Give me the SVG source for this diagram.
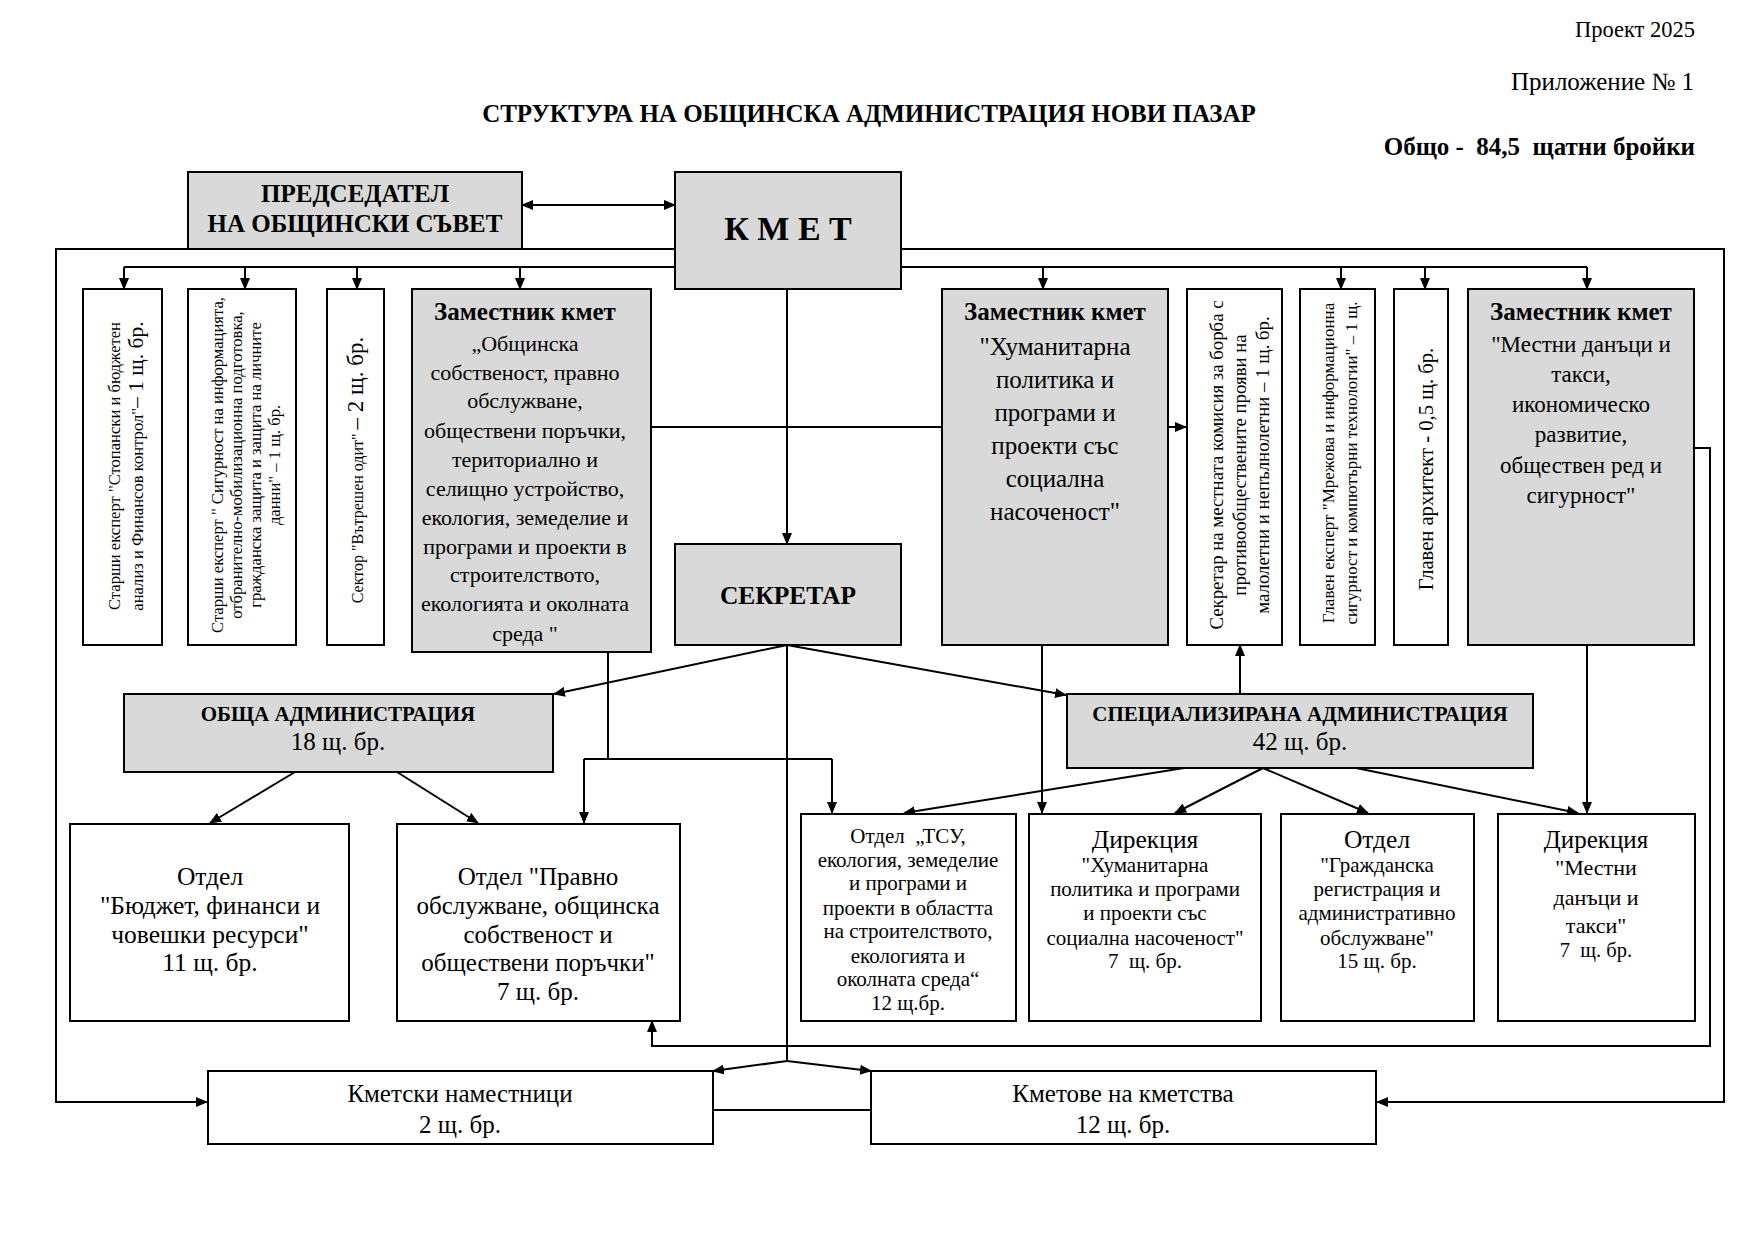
<svg xmlns="http://www.w3.org/2000/svg" width="1755" height="1241" viewBox="0 0 1755 1241">
<style>
text{font-family:"Liberation Serif","Times New Roman",serif;fill:#000}
.c{text-anchor:middle}
.e{text-anchor:end}
.b{font-weight:bold}
.box{fill:#fff;stroke:#000;stroke-width:2}
.g{fill:#d9d9d9}
.ln{fill:none;stroke:#000;stroke-width:2}
.ar{marker-end:url(#ah)}
</style>
<defs>
<marker id="ah" viewBox="0 0 12 10" refX="11" refY="5" markerWidth="12" markerHeight="10" markerUnits="userSpaceOnUse" orient="auto-start-reverse"><path d="M0,0 L12,5 L0,10 z" fill="#000"/></marker>
</defs>
<rect width="1755" height="1241" fill="#fff"/>
<g id="header">
<text x="1695" y="37" font-size="22.5" class="e">Проект 2025</text>
<text x="1694" y="90" font-size="25" class="e">Приложение № 1</text>
<text x="869" y="122" font-size="25" class="c b">СТРУКТУРА НА ОБЩИНСКА АДМИНИСТРАЦИЯ НОВИ ПАЗАР</text>
<text x="1695" y="155" font-size="25" class="e b" xml:space="preserve">Общо -  84,5  щатни бройки</text>
</g>
<g id="connectors">
<path class="ln" d="M522,205 H675" marker-start="url(#ah)" marker-end="url(#ah)"/>
<path class="ln ar" d="M675,249 H56 V1102 H207"/>
<path class="ln ar" d="M901,249 H1724 V1102 H1377"/>
<path class="ln" d="M124,267 H675 M901,267 H1587"/>
<path class="ln ar" d="M124,267 V289"/>
<path class="ln ar" d="M245,267 V289"/>
<path class="ln ar" d="M357,267 V289"/>
<path class="ln ar" d="M520,267 V289"/>
<path class="ln ar" d="M1043,267 V289"/>
<path class="ln ar" d="M1341,267 V289"/>
<path class="ln ar" d="M1425,267 V289"/>
<path class="ln ar" d="M1587,267 V289"/>
<path class="ln ar" d="M787,289 V544"/>
<path class="ln ar" d="M651,427 H1186"/>
<path class="ln ar" d="M1694,448 H1710 V1046 H652 V1021"/>
<path class="ln ar" d="M787,645 L554,694"/>
<path class="ln ar" d="M787,645 L1066,695"/>
<path class="ln" d="M787,645 V1061"/>
<path class="ln ar" d="M787,1061 L713,1071"/>
<path class="ln ar" d="M787,1061 L871,1071"/>
<path class="ln" d="M608,653 V759 M584,759 H832"/>
<path class="ln ar" d="M584,759 V823"/>
<path class="ln ar" d="M832,759 V813"/>
<path class="ln ar" d="M295,772 L210,823"/>
<path class="ln ar" d="M397,772 L478,823"/>
<path class="ln ar" d="M1240,694 V645"/>
<path class="ln ar" d="M1042,645 V813"/>
<path class="ln ar" d="M1587,645 V813"/>
<path class="ln ar" d="M1184,768 L904,813"/>
<path class="ln ar" d="M1263,768 L1175,813"/>
<path class="ln ar" d="M1263,768 L1368,813"/>
<path class="ln ar" d="M1356,768 L1578,813"/>
<path class="ln" d="M713,1110 H871"/>
</g>
<g id="predsedatel">
<rect class="box g" x="188" y="172" width="334" height="77"/>
<text x="355" y="202" font-size="25" class="c b">ПРЕДСЕДАТЕЛ</text>
<text x="355" y="232" font-size="25" class="c b">НА ОБЩИНСКИ СЪВЕТ</text>
</g>
<g id="kmet">
<rect class="box g" x="675" y="172" width="226" height="117"/>
<text x="788" y="240" font-size="34" class="c b">К М Е Т</text>
</g>
<g id="st-expert-stopanski">
<rect class="box" x="83" y="289" width="79" height="356"/>
<g transform="translate(0,466) rotate(-90)">
<text x="0" y="120" font-size="16.6" class="c">Старши експерт "Стопански и бюджетен</text>
<text x="0" y="143" font-size="16.6" class="c">анализ и Финансов контрол"<tspan font-size="21.5">– 1 щ. бр.</tspan></text>
</g>
</g>
<g id="st-expert-sigurnost">
<rect class="box" x="188" y="289" width="108" height="356"/>
<g transform="translate(0,465) rotate(-90)" font-size="16.6">
<text x="0" y="223" class="c">Старши експерт " Сигурност на информацията,</text>
<text x="0" y="242" class="c">отбранително-мобилизационна подготовка,</text>
<text x="0" y="261" class="c">гражданска защита и защита на личните</text>
<text x="0" y="280" class="c">данни" – 1 щ. бр.</text>
</g>
</g>
<g id="sektor-odit">
<rect class="box" x="327" y="289" width="57" height="356"/>
<text transform="translate(363,470) rotate(-90)" font-size="16" class="c">Сектор "Вътрешен одит" <tspan font-size="23">– 2 щ. бр.</tspan></text>
</g>
<g id="zam-kmet-1">
<rect class="box g" x="412" y="289" width="239" height="363"/>
<text x="525" y="320" font-size="25" class="c b">Заместник кмет</text>
<g font-size="22">
<text x="525" y="351" class="c">„Общинска</text>
<text x="525" y="380" class="c">собственост, правно</text>
<text x="525" y="408" class="c">обслужване,</text>
<text x="525" y="438" class="c">обществени поръчки,</text>
<text x="525" y="467" class="c">териториално и</text>
<text x="525" y="496" class="c">селищно устройство,</text>
<text x="525" y="525" class="c">екология, земеделие и</text>
<text x="525" y="554" class="c">програми и проекти в</text>
<text x="525" y="582" class="c">строителството,</text>
<text x="525" y="611" class="c">екологията и околната</text>
<text x="525" y="641" class="c">среда "</text>
</g>
</g>
<g id="sekretar">
<rect class="box g" x="675" y="544" width="226" height="101"/>
<text x="788" y="604" font-size="25.5" class="c b">СЕКРЕТАР</text>
</g>
<g id="zam-kmet-2">
<rect class="box g" x="942" y="289" width="226" height="356"/>
<text x="1055" y="320" font-size="25" class="c b">Заместник кмет</text>
<g font-size="25">
<text x="1055" y="355" class="c">"Хуманитарна</text>
<text x="1055" y="388" class="c">политика и</text>
<text x="1055" y="421" class="c">програми и</text>
<text x="1055" y="454" class="c">проекти със</text>
<text x="1055" y="487" class="c">социална</text>
<text x="1055" y="520" class="c">насоченост"</text>
</g>
</g>
<g id="sekretar-komisia">
<rect class="box" x="1187" y="289" width="95" height="356"/>
<g transform="translate(0,465) rotate(-90)" font-size="18.8">
<text x="0" y="1223" class="c">Секретар на местната комисия за борба с</text>
<text x="0" y="1246" class="c">противообществените прояви на</text>
<text x="0" y="1269" class="c">малолетни и непълнолетни – 1 щ. бр.</text>
</g>
</g>
<g id="glaven-expert-mrejova">
<rect class="box" x="1300" y="289" width="75" height="356"/>
<g transform="translate(0,463) rotate(-90)" font-size="17">
<text x="0" y="1334" class="c">Главен експерт "Мрежова и информационна</text>
<text x="0" y="1357" class="c">сигурност и компютърни технологии" – 1 щ.</text>
</g>
</g>
<g id="glaven-arhitekt">
<rect class="box" x="1394" y="289" width="54" height="356"/>
<text transform="translate(1433,469) rotate(-90)" font-size="20.6" class="c">Главен архитект - 0,5 щ. бр.</text>
</g>
<g id="zam-kmet-3">
<rect class="box g" x="1468" y="289" width="226" height="356"/>
<text x="1581" y="320" font-size="25" class="c b">Заместник кмет</text>
<g font-size="23">
<text x="1581" y="352" class="c">"Местни данъци и</text>
<text x="1581" y="382" class="c">такси,</text>
<text x="1581" y="412" class="c">икономическо</text>
<text x="1581" y="442" class="c">развитие,</text>
<text x="1581" y="473" class="c">обществен ред и</text>
<text x="1581" y="503" class="c">сигурност"</text>
</g>
</g>
<g id="obshta-administracia">
<rect class="box g" x="124" y="694" width="429" height="78"/>
<text x="338" y="721" font-size="21" class="c b">ОБЩА АДМИНИСТРАЦИЯ</text>
<text x="338" y="750" font-size="25" class="c">18 щ. бр.</text>
</g>
<g id="specializirana-administracia">
<rect class="box g" x="1067" y="694" width="466" height="74"/>
<text x="1300" y="721" font-size="21" class="c b">СПЕЦИАЛИЗИРАНА АДМИНИСТРАЦИЯ</text>
<text x="1300" y="750" font-size="25" class="c">42 щ. бр.</text>
</g>
<g id="otdel-budjet">
<rect class="box" x="70" y="824" width="279" height="197"/>
<g font-size="25.5">
<text x="210" y="885" class="c">Отдел</text>
<text x="210" y="914" class="c">"Бюджет, финанси и</text>
<text x="210" y="943" class="c">човешки ресурси"</text>
<text x="210" y="971" class="c">11 щ. бр.</text>
</g>
</g>
<g id="otdel-pravno">
<rect class="box" x="397" y="824" width="283" height="197"/>
<g font-size="25">
<text x="538" y="885" class="c">Отдел "Правно</text>
<text x="538" y="914" class="c">обслужване, общинска</text>
<text x="538" y="943" class="c">собственост и</text>
<text x="538" y="971" class="c">обществени поръчки"</text>
<text x="538" y="1000" class="c">7 щ. бр.</text>
</g>
</g>
<g id="otdel-tsu">
<rect class="box" x="801" y="814" width="215" height="207"/>
<g font-size="21">
<text x="908" y="843" class="c" xml:space="preserve">Отдел  „ТСУ,</text>
<text x="908" y="867" class="c">екология, земеделие</text>
<text x="908" y="890" class="c">и програми и</text>
<text x="908" y="915" class="c">проекти в областта</text>
<text x="908" y="938" class="c">на строителството,</text>
<text x="908" y="963" class="c">екологията и</text>
<text x="908" y="986" class="c">околната среда“</text>
<text x="908" y="1010" class="c">12 щ.бр.</text>
</g>
</g>
<g id="direkcia-humanitarna">
<rect class="box" x="1029" y="814" width="232" height="207"/>
<text x="1145" y="848" font-size="25.5" class="c">Дирекция</text>
<g font-size="21">
<text x="1145" y="872" class="c">"Хуманитарна</text>
<text x="1145" y="896" class="c">политика и програми</text>
<text x="1145" y="920" class="c">и проекти със</text>
<text x="1145" y="945" class="c">социална насоченост"</text>
<text x="1145" y="968" class="c" xml:space="preserve">7  щ. бр.</text>
</g>
</g>
<g id="otdel-grajdanska">
<rect class="box" x="1281" y="814" width="193" height="207"/>
<text x="1377" y="848" font-size="25.5" class="c">Отдел</text>
<g font-size="21">
<text x="1377" y="872" class="c">"Гражданска</text>
<text x="1377" y="896" class="c">регистрация и</text>
<text x="1377" y="920" class="c">административно</text>
<text x="1377" y="945" class="c">обслужване"</text>
<text x="1377" y="968" class="c">15 щ. бр.</text>
</g>
</g>
<g id="direkcia-mestni">
<rect class="box" x="1498" y="814" width="197" height="207"/>
<text x="1596" y="848" font-size="25" class="c">Дирекция</text>
<g font-size="22">
<text x="1596" y="875" class="c">"Местни</text>
<text x="1596" y="905" class="c">данъци и</text>
<text x="1596" y="933" class="c">такси"</text>
</g>
<text x="1596" y="957" font-size="20.5" class="c" xml:space="preserve">7  щ. бр.</text>
</g>
<g id="kmetski-namestnici">
<rect class="box" x="208" y="1071" width="505" height="73"/>
<text x="460" y="1102" font-size="25" class="c">Кметски наместници</text>
<text x="460" y="1133" font-size="25" class="c">2 щ. бр.</text>
</g>
<g id="kmetove">
<rect class="box" x="871" y="1071" width="505" height="73"/>
<text x="1123" y="1102" font-size="25" class="c">Кметове на кметства</text>
<text x="1123" y="1133" font-size="25" class="c">12 щ. бр.</text>
</g>
</svg>
